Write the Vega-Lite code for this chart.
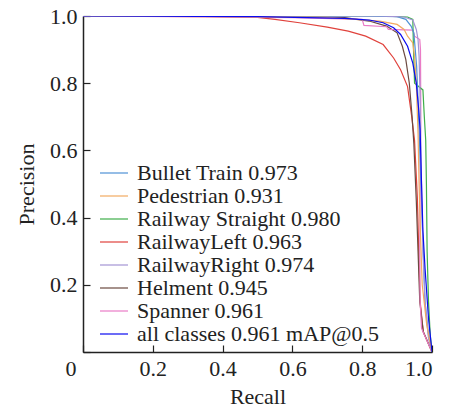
{
  "$schema": "https://vega.github.io/schema/vega-lite/v6.json",
  "width": 349,
  "height": 336,
  "autosize": {"type": "none"},
  "padding": {"left": 83, "top": 16, "right": 18, "bottom": 61},
  "background": "white",
  "datasets": {
    "pr": [
      {"cls": "RailwayLeft 0.963", "i": 0, "r": 0, "p": 1},
      {"cls": "RailwayLeft 0.963", "i": 1, "r": 0.3, "p": 1},
      {"cls": "RailwayLeft 0.963", "i": 2, "r": 0.5, "p": 0.996},
      {"cls": "RailwayLeft 0.963", "i": 3, "r": 0.55, "p": 0.99},
      {"cls": "RailwayLeft 0.963", "i": 4, "r": 0.62, "p": 0.98},
      {"cls": "RailwayLeft 0.963", "i": 5, "r": 0.7, "p": 0.967},
      {"cls": "RailwayLeft 0.963", "i": 6, "r": 0.76, "p": 0.955},
      {"cls": "RailwayLeft 0.963", "i": 7, "r": 0.81, "p": 0.94},
      {"cls": "RailwayLeft 0.963", "i": 8, "r": 0.86, "p": 0.915},
      {"cls": "RailwayLeft 0.963", "i": 9, "r": 0.89, "p": 0.875},
      {"cls": "RailwayLeft 0.963", "i": 10, "r": 0.91, "p": 0.84},
      {"cls": "RailwayLeft 0.963", "i": 11, "r": 0.93, "p": 0.79},
      {"cls": "RailwayLeft 0.963", "i": 12, "r": 0.942, "p": 0.7},
      {"cls": "RailwayLeft 0.963", "i": 13, "r": 0.95, "p": 0.63},
      {"cls": "RailwayLeft 0.963", "i": 14, "r": 0.958, "p": 0.46},
      {"cls": "RailwayLeft 0.963", "i": 15, "r": 0.962, "p": 0.3},
      {"cls": "RailwayLeft 0.963", "i": 16, "r": 0.966, "p": 0.15},
      {"cls": "RailwayLeft 0.963", "i": 17, "r": 0.975, "p": 0.06},
      {"cls": "RailwayLeft 0.963", "i": 18, "r": 1.0, "p": 0},

      {"cls": "Helment 0.945", "i": 0, "r": 0, "p": 1},
      {"cls": "Helment 0.945", "i": 1, "r": 0.6, "p": 1},
      {"cls": "Helment 0.945", "i": 2, "r": 0.75, "p": 0.995},
      {"cls": "Helment 0.945", "i": 3, "r": 0.82, "p": 0.985},
      {"cls": "Helment 0.945", "i": 4, "r": 0.87, "p": 0.97},
      {"cls": "Helment 0.945", "i": 5, "r": 0.9, "p": 0.95},
      {"cls": "Helment 0.945", "i": 6, "r": 0.915, "p": 0.91},
      {"cls": "Helment 0.945", "i": 7, "r": 0.925, "p": 0.87},
      {"cls": "Helment 0.945", "i": 8, "r": 0.935, "p": 0.8},
      {"cls": "Helment 0.945", "i": 9, "r": 0.943, "p": 0.7},
      {"cls": "Helment 0.945", "i": 10, "r": 0.948, "p": 0.62},
      {"cls": "Helment 0.945", "i": 11, "r": 0.955, "p": 0.45},
      {"cls": "Helment 0.945", "i": 12, "r": 0.96, "p": 0.3},
      {"cls": "Helment 0.945", "i": 13, "r": 0.965, "p": 0.15},
      {"cls": "Helment 0.945", "i": 14, "r": 0.975, "p": 0.06},
      {"cls": "Helment 0.945", "i": 15, "r": 1.0, "p": 0},

      {"cls": "Spanner 0.961", "i": 0, "r": 0, "p": 1},
      {"cls": "Spanner 0.961", "i": 1, "r": 0.6, "p": 0.995},
      {"cls": "Spanner 0.961", "i": 2, "r": 0.8, "p": 0.99},
      {"cls": "Spanner 0.961", "i": 3, "r": 0.805, "p": 0.972},
      {"cls": "Spanner 0.961", "i": 4, "r": 0.87, "p": 0.968},
      {"cls": "Spanner 0.961", "i": 5, "r": 0.875, "p": 0.96},
      {"cls": "Spanner 0.961", "i": 6, "r": 0.945, "p": 0.958},
      {"cls": "Spanner 0.961", "i": 7, "r": 0.95, "p": 0.94},
      {"cls": "Spanner 0.961", "i": 8, "r": 0.965, "p": 0.93},
      {"cls": "Spanner 0.961", "i": 9, "r": 0.967, "p": 0.9},
      {"cls": "Spanner 0.961", "i": 10, "r": 0.968, "p": 0.7},
      {"cls": "Spanner 0.961", "i": 11, "r": 0.966, "p": 0.5},
      {"cls": "Spanner 0.961", "i": 12, "r": 0.965, "p": 0.3},
      {"cls": "Spanner 0.961", "i": 13, "r": 0.966, "p": 0.15},
      {"cls": "Spanner 0.961", "i": 14, "r": 0.97, "p": 0.07},
      {"cls": "Spanner 0.961", "i": 15, "r": 1.0, "p": 0},

      {"cls": "Railway Straight 0.980", "i": 0, "r": 0, "p": 1},
      {"cls": "Railway Straight 0.980", "i": 1, "r": 0.85, "p": 1},
      {"cls": "Railway Straight 0.980", "i": 2, "r": 0.93, "p": 0.997},
      {"cls": "Railway Straight 0.980", "i": 3, "r": 0.945, "p": 0.99},
      {"cls": "Railway Straight 0.980", "i": 4, "r": 0.947, "p": 0.9},
      {"cls": "Railway Straight 0.980", "i": 5, "r": 0.95, "p": 0.8},
      {"cls": "Railway Straight 0.980", "i": 6, "r": 0.974, "p": 0.78},
      {"cls": "Railway Straight 0.980", "i": 7, "r": 0.978, "p": 0.7},
      {"cls": "Railway Straight 0.980", "i": 8, "r": 0.982, "p": 0.63},
      {"cls": "Railway Straight 0.980", "i": 9, "r": 0.984, "p": 0.5},
      {"cls": "Railway Straight 0.980", "i": 10, "r": 0.986, "p": 0.3},
      {"cls": "Railway Straight 0.980", "i": 11, "r": 0.99, "p": 0.15},
      {"cls": "Railway Straight 0.980", "i": 12, "r": 0.995, "p": 0.05},
      {"cls": "Railway Straight 0.980", "i": 13, "r": 1.0, "p": 0},

      {"cls": "Bullet Train 0.973", "i": 0, "r": 0, "p": 1},
      {"cls": "Bullet Train 0.973", "i": 1, "r": 0.8, "p": 1},
      {"cls": "Bullet Train 0.973", "i": 2, "r": 0.9, "p": 0.998},
      {"cls": "Bullet Train 0.973", "i": 3, "r": 0.925, "p": 0.99},
      {"cls": "Bullet Train 0.973", "i": 4, "r": 0.94, "p": 0.97},
      {"cls": "Bullet Train 0.973", "i": 5, "r": 0.948, "p": 0.95},
      {"cls": "Bullet Train 0.973", "i": 6, "r": 0.952, "p": 0.9},
      {"cls": "Bullet Train 0.973", "i": 7, "r": 0.956, "p": 0.85},
      {"cls": "Bullet Train 0.973", "i": 8, "r": 0.96, "p": 0.75},
      {"cls": "Bullet Train 0.973", "i": 9, "r": 0.965, "p": 0.6},
      {"cls": "Bullet Train 0.973", "i": 10, "r": 0.97, "p": 0.45},
      {"cls": "Bullet Train 0.973", "i": 11, "r": 0.975, "p": 0.3},
      {"cls": "Bullet Train 0.973", "i": 12, "r": 0.98, "p": 0.15},
      {"cls": "Bullet Train 0.973", "i": 13, "r": 0.99, "p": 0.05},
      {"cls": "Bullet Train 0.973", "i": 14, "r": 1.0, "p": 0},

      {"cls": "RailwayRight 0.974", "i": 0, "r": 0, "p": 1},
      {"cls": "RailwayRight 0.974", "i": 1, "r": 0.85, "p": 1},
      {"cls": "RailwayRight 0.974", "i": 2, "r": 0.92, "p": 0.997},
      {"cls": "RailwayRight 0.974", "i": 3, "r": 0.945, "p": 0.988},
      {"cls": "RailwayRight 0.974", "i": 4, "r": 0.955, "p": 0.96},
      {"cls": "RailwayRight 0.974", "i": 5, "r": 0.96, "p": 0.93},
      {"cls": "RailwayRight 0.974", "i": 6, "r": 0.963, "p": 0.88},
      {"cls": "RailwayRight 0.974", "i": 7, "r": 0.966, "p": 0.75},
      {"cls": "RailwayRight 0.974", "i": 8, "r": 0.968, "p": 0.6},
      {"cls": "RailwayRight 0.974", "i": 9, "r": 0.971, "p": 0.45},
      {"cls": "RailwayRight 0.974", "i": 10, "r": 0.974, "p": 0.3},
      {"cls": "RailwayRight 0.974", "i": 11, "r": 0.98, "p": 0.15},
      {"cls": "RailwayRight 0.974", "i": 12, "r": 0.99, "p": 0.04},
      {"cls": "RailwayRight 0.974", "i": 13, "r": 1.0, "p": 0},

      {"cls": "Pedestrian 0.931", "i": 0, "r": 0, "p": 1},
      {"cls": "Pedestrian 0.931", "i": 1, "r": 0.7, "p": 0.996},
      {"cls": "Pedestrian 0.931", "i": 2, "r": 0.85, "p": 0.985},
      {"cls": "Pedestrian 0.931", "i": 3, "r": 0.9, "p": 0.975},
      {"cls": "Pedestrian 0.931", "i": 4, "r": 0.92, "p": 0.96},
      {"cls": "Pedestrian 0.931", "i": 5, "r": 0.93, "p": 0.94},
      {"cls": "Pedestrian 0.931", "i": 6, "r": 0.945, "p": 0.92},
      {"cls": "Pedestrian 0.931", "i": 7, "r": 0.95, "p": 0.88},
      {"cls": "Pedestrian 0.931", "i": 8, "r": 0.955, "p": 0.8},
      {"cls": "Pedestrian 0.931", "i": 9, "r": 0.96, "p": 0.65},
      {"cls": "Pedestrian 0.931", "i": 10, "r": 0.963, "p": 0.5},
      {"cls": "Pedestrian 0.931", "i": 11, "r": 0.967, "p": 0.35},
      {"cls": "Pedestrian 0.931", "i": 12, "r": 0.972, "p": 0.2},
      {"cls": "Pedestrian 0.931", "i": 13, "r": 0.985, "p": 0.08},
      {"cls": "Pedestrian 0.931", "i": 14, "r": 1.0, "p": 0},

      {"cls": "all classes 0.961 mAP@0.5", "i": 0, "r": 0, "p": 1},
      {"cls": "all classes 0.961 mAP@0.5", "i": 1, "r": 0.5, "p": 0.998},
      {"cls": "all classes 0.961 mAP@0.5", "i": 2, "r": 0.75, "p": 0.993},
      {"cls": "all classes 0.961 mAP@0.5", "i": 3, "r": 0.82, "p": 0.988},
      {"cls": "all classes 0.961 mAP@0.5", "i": 4, "r": 0.86, "p": 0.98},
      {"cls": "all classes 0.961 mAP@0.5", "i": 5, "r": 0.89, "p": 0.965},
      {"cls": "all classes 0.961 mAP@0.5", "i": 6, "r": 0.91, "p": 0.945},
      {"cls": "all classes 0.961 mAP@0.5", "i": 7, "r": 0.93, "p": 0.91},
      {"cls": "all classes 0.961 mAP@0.5", "i": 8, "r": 0.945, "p": 0.86},
      {"cls": "all classes 0.961 mAP@0.5", "i": 9, "r": 0.955, "p": 0.8},
      {"cls": "all classes 0.961 mAP@0.5", "i": 10, "r": 0.962, "p": 0.72},
      {"cls": "all classes 0.961 mAP@0.5", "i": 11, "r": 0.966, "p": 0.66},
      {"cls": "all classes 0.961 mAP@0.5", "i": 12, "r": 0.97, "p": 0.5},
      {"cls": "all classes 0.961 mAP@0.5", "i": 13, "r": 0.974, "p": 0.36},
      {"cls": "all classes 0.961 mAP@0.5", "i": 14, "r": 0.98, "p": 0.25},
      {"cls": "all classes 0.961 mAP@0.5", "i": 15, "r": 0.99, "p": 0.1},
      {"cls": "all classes 0.961 mAP@0.5", "i": 16, "r": 1.0, "p": 0}
    ]
  },
  "data": {"name": "pr"},
  "encoding": {
    "x": {
      "field": "r", "type": "quantitative",
      "scale": {"domain": [0, 1], "nice": false, "zero": true},
      "axis": {
        "title": "Recall",
        "values": [0, 0.2, 0.4, 0.6, 0.8, 1.0],
        "labelExpr": "datum.value == 0 ? '0' : format(datum.value, '.1f')",
        "labelOffset": {"condition": {"test": "datum.value == 0", "value": -18}, "value": 0},
        "tickSize": -7,
        "labelPadding": 13,
        "titlePadding": 7,
        "grid": false
      }
    },
    "y": {
      "field": "p", "type": "quantitative",
      "scale": {"domain": [0, 1], "nice": false, "zero": true},
      "axis": {
        "title": "Precision",
        "values": [0, 0.2, 0.4, 0.6, 0.8, 1.0],
        "labelExpr": "datum.value == 0 ? '' : format(datum.value, '.1f')",
        "tickSize": -7,
        "labelPadding": 13,
        "titlePadding": 11,
        "grid": false
      }
    },
    "color": {
      "field": "cls", "type": "nominal",
      "scale": {
        "domain": ["Bullet Train 0.973", "Pedestrian 0.931", "Railway Straight 0.980", "RailwayLeft 0.963", "RailwayRight 0.974", "Helment 0.945", "Spanner 0.961", "all classes 0.961 mAP@0.5"],
        "range": ["#4f92d6", "#f2aa62", "#3fae4a", "#e0423c", "#a394d4", "#6b4a40", "#ea7cc6", "#0a0af0"]
      },
      "legend": {"orient": "none", "legendX": 20, "legendY": 146, "title": null}
    },
    "strokeWidth": {
      "field": "cls", "type": "nominal",
      "scale": {
        "domain": ["Bullet Train 0.973", "Pedestrian 0.931", "Railway Straight 0.980", "RailwayLeft 0.963", "RailwayRight 0.974", "Helment 0.945", "Spanner 0.961", "all classes 0.961 mAP@0.5"],
        "range": [1.2, 1.2, 1.2, 1.2, 1.2, 1.2, 1.2, 3.5]
      },
      "legend": {"orient": "none", "legendX": 20, "legendY": 146, "title": null}
    },
    "order": {"field": "i", "type": "quantitative"}
  },
  "layer": [
    {
      "transform": [{"filter": "datum.cls != 'all classes 0.961 mAP@0.5'"}],
      "mark": {"type": "line", "clip": true}
    },
    {
      "transform": [{"filter": "datum.cls == 'all classes 0.961 mAP@0.5'"}],
      "mark": {"type": "line", "clip": true}
    }
  ],
  "config": {
    "view": {"stroke": null},
    "font": "Liberation Serif",
    "axis": {
      "domainColor": "#222222",
      "domainWidth": 1.5,
      "tickColor": "#222222",
      "tickWidth": 1.2,
      "labelFont": "Liberation Serif",
      "labelFontSize": 22,
      "labelColor": "#222222",
      "titleFont": "Liberation Serif",
      "titleFontSize": 22,
      "titleFontWeight": "normal",
      "titleColor": "#222222"
    },
    "legend": {
      "symbolType": "M-1.4,0H1.4",
      "symbolSize": 400,
      "labelFont": "Liberation Serif",
      "labelFontSize": 22,
      "labelColor": "#222222",
      "labelOffset": 12,
      "rowPadding": 1,
      "labelLimit": 400
    }
  }
}
